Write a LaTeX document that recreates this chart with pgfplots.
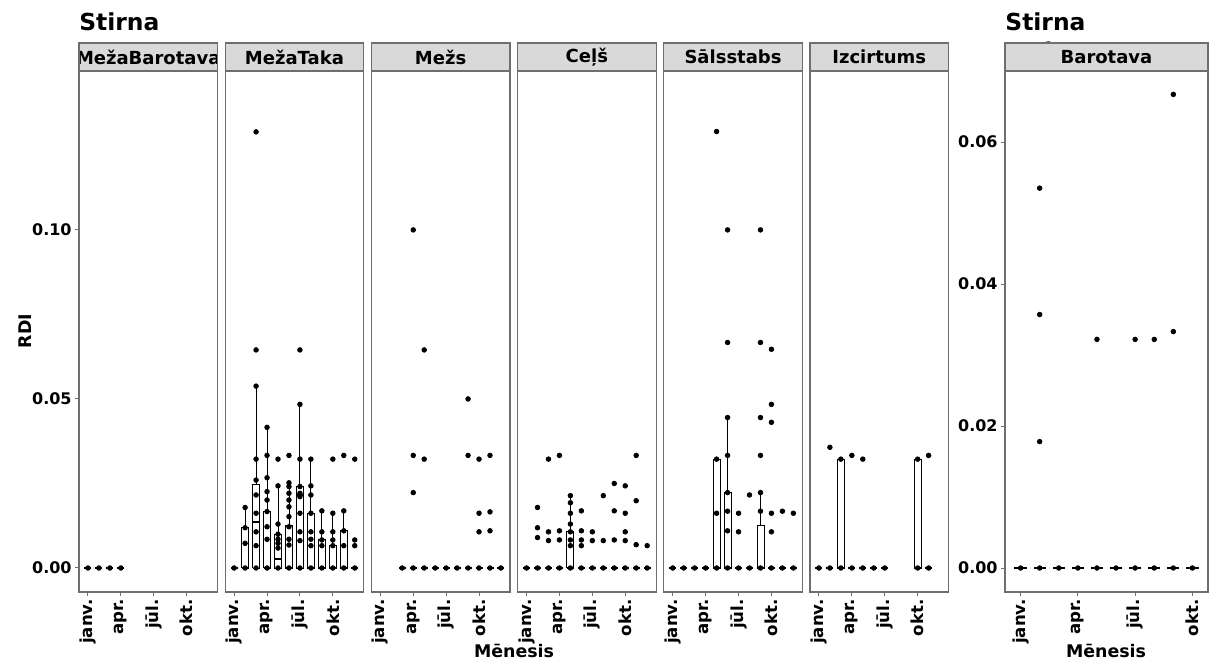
\documentclass[border=0pt]{standalone}
\usepackage{pgfplots}
\pgfplotsset{compat=1.18}
\usetikzlibrary{plotmarks}
\usepackage{fontspec}
\setmainfont{DejaVu Sans}
\definecolor{stripfill}{RGB}{217,217,217}
\definecolor{border}{RGB}{110,110,110}
\pgfplotsset{
  panelbase/.style={
    scale only axis, anchor=south west, height=260.5pt,
    axis line style={draw=border, line width=0.6pt},
    xtick={1,4,7,10}, xticklabels={janv.,apr.,jūl.,okt.},
    tick align=outside, major tick length=2pt,
    tick style={draw=border, line width=0.5pt},
    xtick pos=bottom, ytick pos=left,
    xticklabel style={rotate=90, anchor=east, font=\fontsize{8.3}{9}\selectfont\bfseries, inner sep=1.5pt},
    yticklabel style={font=\fontsize{8}{9}\selectfont\bfseries, inner sep=1.5pt},
  },
  panel/.style={panelbase, width=69.25pt, xmin=0.185, xmax=12.815, ymin=-0.0071, ymax=0.1470, ytick=\empty},
  dots/.style={only marks, mark=*, mark size=1.15pt, draw=black, fill=black, mark options={draw=black, fill=black}},
  boxes/.style={black, line width=0.45pt, no marks, unbounded coords=jump},
  med/.style={only marks, mark=-, mark size=1.75pt, mark options={draw=black, line width=0.9pt}},
}
\begin{document}
\begin{tikzpicture}
\useasboundingbox (0,0) rectangle (608.5pt,333pt);

% Panel 1: MežaBarotava
\begin{axis}[panel, at={(39.5pt,37pt)}, ytick={0,0.05,0.1}, yticklabels={0.00,0.05,0.10}]
\addplot[med] coordinates {(1,0)(2,0)(3,0)(4,0)};
\addplot[dots] coordinates {(1,0)(2,0)(3,0)(4,0)};
\end{axis}

% Panel 2: MežaTaka
\begin{axis}[panel, at={(112.6pt,37pt)}]
\addplot[boxes] coordinates {
(1.68,0)(2.32,0)(2.32,0.0119)(1.68,0.0119)(1.68,0) (2,nan)
(2.68,0)(3.32,0)(3.32,0.0248)(2.68,0.0248)(2.68,0) (3,nan)
(3.68,0)(4.32,0)(4.32,0.0167)(3.68,0.0167)(3.68,0) (4,nan)
(4.68,0)(5.32,0)(5.32,0.0100)(4.68,0.0100)(4.68,0) (5,nan)
(5.68,0)(6.32,0)(6.32,0.0127)(5.68,0.0127)(5.68,0) (6,nan)
(6.68,0)(7.32,0)(7.32,0.0241)(6.68,0.0241)(6.68,0) (7,nan)
(7.68,0)(8.32,0)(8.32,0.0162)(7.68,0.0162)(7.68,0) (8,nan)
(8.68,0)(9.32,0)(9.32,0.0083)(8.68,0.0083)(8.68,0) (9,nan)
(9.68,0)(10.32,0)(10.32,0.0066)(9.68,0.0066)(9.68,0) (10,nan)
(10.68,0)(11.32,0)(11.32,0.0110)(10.68,0.0110)(10.68,0) (11,nan)
(2,0.0119)(2,0.0179) (2,nan)
(3,0.0248)(3,0.0538) (3,nan)
(4,0.0167)(4,0.0416) (4,nan)
(5,0.0100)(5,0.0243) (5,nan)
(6,0.0127)(6,0.0252) (6,nan)
(7,0.0241)(7,0.0484) (7,nan)
(8,0.0162)(8,0.0322) (8,nan)
(9,0.0083)(9,0.0169) (9,nan)
(10,0.0066)(10,0.0162) (10,nan)
(11,0.0110)(11,0.0169)
};
\addplot[med] coordinates {(1,0)(2,0)(3,0.0135)(4,0)(5,0.0027)(6,0)(7,0.0216)(8,0)(9,0)(10,0)(11,0)(12,0)};
\addplot[dots] coordinates {
(1,0)
(2,0)(2,0.0073)(2,0.0119)(2,0.0179)
(3,0)(3,0.0066)(3,0.0107)(3,0.0162)(3,0.0216)(3,0.026)(3,0.0322)(3,0.0538)(3,0.0645)(3,0.129)
(4,0)(4,0.0085)(4,0.0122)(4,0.0167)(4,0.0201)(4,0.0226)(4,0.0267)(4,0.0333)(4,0.0416)
(5,0)(5,0.0059)(5,0.0073)(5,0.0085)(5,0.0100)(5,0.0130)(5,0.0243)(5,0.0322)
(6,0)(6,0.0068)(6,0.0085)(6,0.0122)(6,0.0152)(6,0.0181)(6,0.0201)(6,0.0221)(6,0.0241)(6,0.0252)(6,0.0333)
(7,0)(7,0.0081)(7,0.0107)(7,0.0162)(7,0.0211)(7,0.0221)(7,0.0241)(7,0.0322)(7,0.0484)(7,0.0645)
(8,0)(8,0.0066)(8,0.0085)(8,0.0107)(8,0.0162)(8,0.0216)(8,0.0243)(8,0.0322)
(9,0)(9,0.0066)(9,0.0083)(9,0.0107)(9,0.0169)
(10,0)(10,0.0066)(10,0.0083)(10,0.0107)(10,0.0162)(10,0.0322)
(11,0)(11,0.0066)(11,0.0110)(11,0.0169)(11,0.0333)
(12,0)(12,0.0066)(12,0.0083)(12,0.0322)
};
\end{axis}

% Panel 3: Mežs
\begin{axis}[panel, at={(185.7pt,37pt)}]
\addplot[med] coordinates {(3,0)(4,0)(5,0)(6,0)(7,0)(8,0)(9,0)(10,0)(11,0)(12,0)};
\addplot[dots] coordinates {
(3,0)(4,0)(5,0)(6,0)(7,0)(8,0)(9,0)(10,0)(11,0)(12,0)
(4,0.1)(4,0.0333)(4,0.0223)
(5,0.0645)(5,0.0322)
(9,0.05)(9,0.0333)
(10,0.0322)(10,0.0162)(10,0.0107)
(11,0.0333)(11,0.0166)(11,0.011)
};
\end{axis}

% Panel 4: Ceļš
\begin{axis}[panel, at={(258.8pt,37pt)}]
\addplot[boxes] coordinates {
(4.68,0)(5.32,0)(5.32,0.0107)(4.68,0.0107)(4.68,0) (5,nan)
(5,0.0107)(5,0.0214)
};
\addplot[med] coordinates {(1,0)(2,0)(3,0)(4,0)(5,0)(6,0)(7,0)(8,0)(9,0)(10,0)(11,0)(12,0)};
\addplot[dots] coordinates {
(1,0)(2,0)(3,0)(4,0)(5,0)(6,0)(7,0)(8,0)(9,0)(10,0)(11,0)(12,0)
(2,0.0179)(2,0.0119)(2,0.009)
(3,0.0322)(3,0.0107)(3,0.0081)
(4,0.0333)(4,0.011)(4,0.0083)
(5,0.0214)(5,0.0193)(5,0.0162)(5,0.013)(5,0.0107)(5,0.0083)(5,0.0066)
(6,0.0169)(6,0.011)(6,0.0083)(6,0.0066)
(7,0.0107)(7,0.0081)
(8,0.0214)(8,0.0081)
(9,0.025)(9,0.0169)(9,0.0083)
(10,0.0243)(10,0.0162)(10,0.0107)(10,0.0081)
(11,0.0333)(11,0.0199)(11,0.0069)
(12,0.0066)
};
\end{axis}

% Panel 5: Sālsstabs
\begin{axis}[panel, at={(331.9pt,37pt)}]
\addplot[boxes] coordinates {
(4.68,0)(5.32,0)(5.32,0.0322)(4.68,0.0322)(4.68,0) (5,nan)
(5.68,0)(6.32,0)(6.32,0.0223)(5.68,0.0223)(5.68,0) (6,nan)
(8.68,0)(9.32,0)(9.32,0.0126)(8.68,0.0126)(8.68,0) (9,nan)
(6,0.0223)(6,0.0445) (6,nan)
(9,0.0126)(9,0.0223)
};
\addplot[med] coordinates {(1,0)(2,0)(3,0)(4,0)(5,0)(6,0)(7,0)(8,0)(9,0)(10,0)(11,0)(12,0)};
\addplot[dots] coordinates {
(1,0)(2,0)(3,0)(4,0)(5,0)(6,0)(7,0)(8,0)(9,0)(10,0)(11,0)(12,0)
(5,0.1291)(5,0.0322)(5,0.0162)
(6,0.1)(6,0.0667)(6,0.0445)(6,0.0333)(6,0.0223)(6,0.0168)(6,0.011)
(7,0.0162)(7,0.0107)
(8,0.0216)
(9,0.1)(9,0.0667)(9,0.0445)(9,0.0333)(9,0.0223)(9,0.0168)
(10,0.0647)(10,0.0484)(10,0.0431)(10,0.0162)(10,0.0107)
(11,0.0168)
(12,0.0162)
};
\end{axis}

% Panel 6: Izcirtums
\begin{axis}[panel, at={(405pt,37pt)}]
\addplot[boxes] coordinates {
(2.68,0)(3.32,0)(3.32,0.0322)(2.68,0.0322)(2.68,0) (3,nan)
(9.68,0)(10.32,0)(10.32,0.0322)(9.68,0.0322)(9.68,0)
};
\addplot[med] coordinates {(1,0)(2,0)(3,0)(4,0)(5,0)(6,0)(7,0)(10,0)(11,0)};
\addplot[dots] coordinates {
(1,0)(2,0)(3,0)(4,0)(5,0)(6,0)(7,0)(10,0)(11,0)
(2,0.0357)(3,0.0322)(4,0.0333)(5,0.0322)(10,0.0322)(11,0.0333)
};
\end{axis}

% Right plot: Barotava
\begin{axis}[panelbase, at={(502.5pt,37pt)}, width=101.5pt,
  xmin=0.185, xmax=10.815, ymin=-0.00338, ymax=0.0700,
  ytick={0,0.02,0.04,0.06}, yticklabels={0.00,0.02,0.04,0.06}]
\addplot[med, mark size=3.06pt] coordinates {(1,0)(2,0)(3,0)(4,0)(5,0)(6,0)(7,0)(8,0)(9,0)(10,0)};
\addplot[dots] coordinates {
(1,0)(2,0)(3,0)(4,0)(5,0)(6,0)(7,0)(8,0)(9,0)(10,0)
(2,0.0535)(2,0.0357)(2,0.0178)
(5,0.0322)(7,0.0322)(8,0.0322)
(9,0.0667)(9,0.0333)
};
\end{axis}

% Strips
\foreach \x/\w/\lab in {39.5/69.25/MežaBarotava, 112.6/69.25/MežaTaka, 185.7/69.25/Mežs, 258.8/69.25/Ceļš, 331.9/69.25/Sālsstabs, 405/69.25/Izcirtums, 502.5/101.5/Barotava}{
  \begin{scope}
    \clip (\x pt,297.5pt) rectangle ++(\w pt,14pt);
    \fill[stripfill] (\x pt,297.5pt) rectangle ++(\w pt,14pt);
    \node[font=\fontsize{9}{10}\selectfont\bfseries, inner sep=0pt] at ({\x pt+0.5*\w pt},304.5pt) {\lab};
  \end{scope}
  \draw[border, line width=0.6pt] (\x pt,297.5pt) rectangle ++(\w pt,14pt);
}

% Titles and axis labels
\node[anchor=base west, font=\fontsize{11.7}{13}\selectfont\bfseries, inner sep=0pt] at (39.5pt,317.5pt) {Stirna};
\node[anchor=base west, font=\fontsize{11.7}{13}\selectfont\bfseries, inner sep=0pt] at (502.5pt,317.5pt) {Stirna};
\node[rotate=90, font=\fontsize{8.7}{10}\selectfont\bfseries, inner sep=0pt] at (12.5pt,167.5pt) {RDI};
\node[anchor=base, font=\fontsize{8.7}{10}\selectfont\bfseries, inner sep=0pt] at (257pt,4.5pt) {Mēnesis};
\node[anchor=base, font=\fontsize{8.7}{10}\selectfont\bfseries, inner sep=0pt] at (553pt,4.5pt) {Mēnesis};
\end{tikzpicture}
\end{document}
